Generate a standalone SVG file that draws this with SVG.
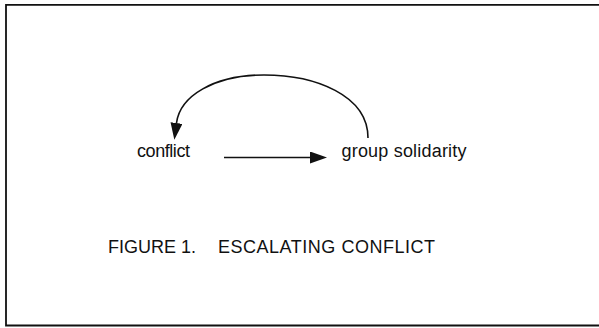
<svg xmlns="http://www.w3.org/2000/svg" width="599" height="328" viewBox="0 0 599 328">
  <style>
    .label { font-family: "Liberation Sans", Arial, Helvetica, sans-serif; font-size: 18px; fill: #111; }
    .caption { font-family: "Liberation Sans", Arial, Helvetica, sans-serif; font-size: 18px; fill: #111; }
    .edge { fill: none; stroke: #111; stroke-width: 1.6; }
  </style>
  <defs>
    <marker id="arrow" markerUnits="userSpaceOnUse" markerWidth="18" markerHeight="13" refX="0" refY="6" orient="auto">
      <path d="M0,0 L17,6 L0,12 Z" fill="#111"/>
    </marker>
  </defs>
  <rect width="599" height="328" fill="#fff"/>
  <!-- frame: open on the right side -->
  <path d="M600,4.8 L6,4.8 L6,325.5 L600,325.5" fill="none" stroke="#111" stroke-width="1.8"/>

  <g id="connectors">
    <line class="edge" x1="224" y1="157.5" x2="310" y2="157.5" marker-end="url(#arrow)"/>
    <path class="edge" d="M368,138 C368,95 315,75 264,75 C214,75 180,96 176.5,123" marker-end="url(#arrow)"/>
  </g>

  <g id="node-conflict">
    <text class="label" x="137" y="157" textLength="53" lengthAdjust="spacing">conflict</text>
  </g>
  <g id="node-group-solidarity">
    <text class="label" x="341.5" y="157" textLength="125" lengthAdjust="spacing">group solidarity</text>
  </g>
  <g id="caption">
    <text class="caption" x="108" y="253.3">FIGURE 1.</text>
    <text class="caption" x="218" y="253.3" textLength="217" lengthAdjust="spacing">ESCALATING CONFLICT</text>
  </g>
</svg>
